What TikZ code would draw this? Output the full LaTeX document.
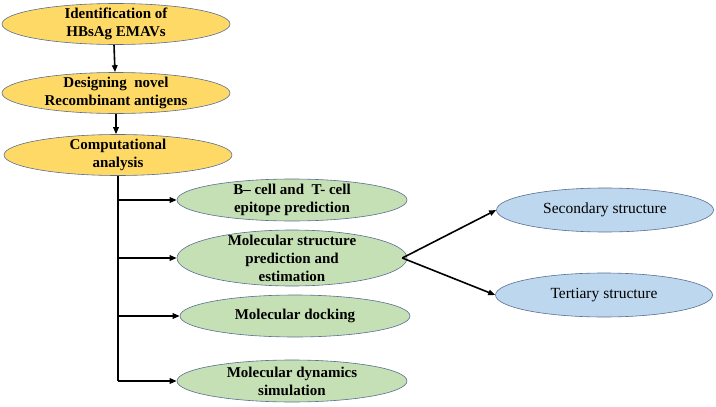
\documentclass[tikz,border=0pt]{standalone}
\usepackage{fontspec}
\setmainfont{Liberation Serif}
\usetikzlibrary{shapes.geometric,arrows.meta}

\definecolor{yelfill}{HTML}{FFD966}
\definecolor{grnfill}{HTML}{C5E0B4}
\definecolor{blufill}{HTML}{BDD7EE}
\definecolor{edgecol}{HTML}{5A6E91}

\tikzset{
  blob/.style={ellipse, draw=edgecol, line width=0.6pt, inner sep=0pt},
  yel/.style={blob, fill=yelfill, minimum width=228pt, minimum height=41pt},
  grn/.style={blob, fill=grnfill, minimum width=230pt, minimum height=42pt},
  blu/.style={blob, fill=blufill, minimum width=217pt, minimum height=44pt},
  boldtxt/.style={align=center, font=\fontsize{15}{18}\selectfont\bfseries},
  plaintxt/.style={align=center, font=\fontsize{15.5}{18}\selectfont},
  link/.style={-{Triangle[length=7pt,width=5.5pt]}, line width=1.6pt},
}

\begin{document}
\begin{tikzpicture}[x=1pt,y=-1pt]
        \useasboundingbox (0,0) rectangle (716,407);

        % MAIN STEPS
        \node[yel, label={[boldtxt]center:Identification of\\HBsAg EMAVs}] (ident) at (116,24) {};
        \node[yel, label={[boldtxt]center:Designing\ \ novel\\Recombinant antigens}] (design) at (116,93) {};
        \node[yel, label={[boldtxt]center:Computational\\analysis}] (comp) at (118,155) {};

        % ANALYSES
        \node[grn, label={[boldtxt]center:B-- cell and\ \ T- cell\\epitope prediction}] (epi) at (292,200) {};
        \node[grn, minimum height=56pt, label={[boldtxt]center:Molecular structure\\prediction and\\estimation}] (msp) at (292,258) {};
        \node[grn, label={[boldtxt]center:Molecular docking}] (dock) at (295,316) {};
        \node[grn, label={[boldtxt]center:Molecular dynamics\\simulation}] (mds) at (292,381) {};

        % STRUCTURES
        \node[blu, label={[plaintxt]center:Secondary structure}] (sec) at (605,210) {};
        \node[blu, label={[plaintxt]center:Tertiary structure}] (ter) at (604,295) {};

        % ARROWS
        \draw[link] ([xshift=-2pt]ident.south) -- ([xshift=-1pt]design.north);
        \draw[link] (design.south) -- ([xshift=-2pt]comp.south |- comp.north);
        \coordinate (trunk) at (comp.south |- mds);
        \draw[line width=1.6pt] (comp.south) -- (trunk);
        \foreach \n in {epi,msp,dock,mds}
          \draw[link] (comp.south |- \n) -- (\n.west);
        \coordinate (fork) at ([xshift=-5pt]msp.east);
        \draw[link] (fork) -- (sec.west);
        \draw[link] (fork) -- (ter.west);
      \end{tikzpicture}
\end{document}
